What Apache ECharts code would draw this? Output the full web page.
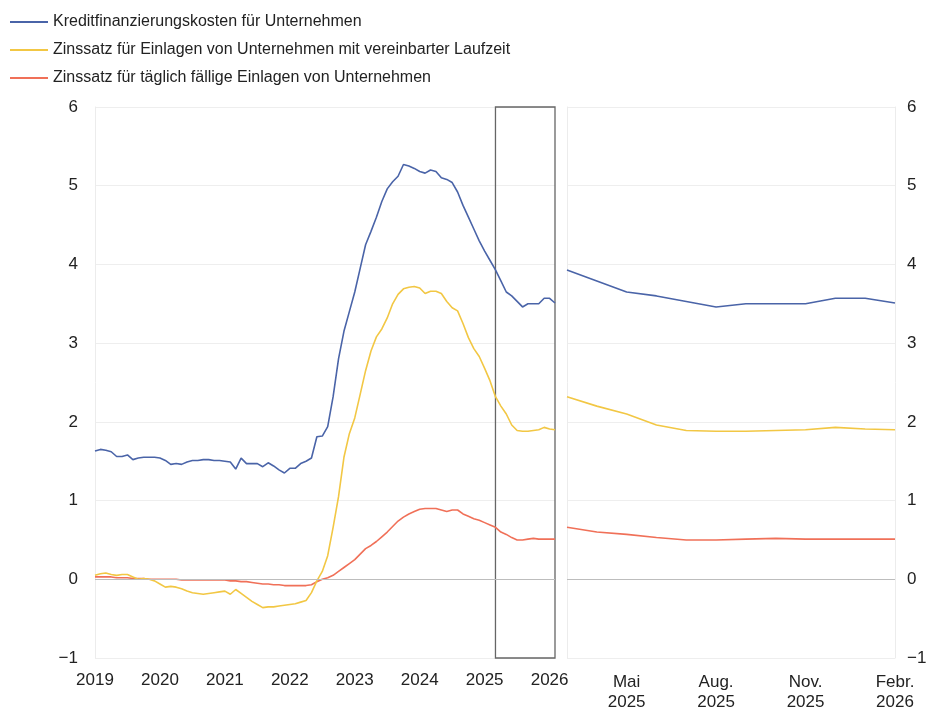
<!DOCTYPE html>
<html>
<head>
<meta charset="utf-8">
<script src="https://cdn.jsdelivr.net/npm/echarts@6/dist/echarts.min.js"></script>
<style>html,body{margin:0;padding:0;background:#fff;}#c{width:928px;height:710px;}</style>
</head>
<body>
<div id="c"></div>
<script>
// Monthly categories Jan 2019 .. Feb 2026
const months = [];
for (let y = 2019; y <= 2026; y++) {
  for (let m = 1; m <= 12; m++) {
    if (y === 2026 && m > 2) break;
    months.push(y + '-' + String(m).padStart(2, '0'));
  }
}
const seriesNames = [
  'Kreditfinanzierungskosten für Unternehmen',
  'Zinssatz für Einlagen von Unternehmen mit vereinbarter Laufzeit',
  'Zinssatz für täglich fällige Einlagen von Unternehmen'
];
const blue = [
  1.63,1.65,1.64,1.62,1.56,1.56,1.58,1.52,1.54,1.55,1.55,1.55,
  1.54,1.51,1.46,1.47,1.46,1.49,1.51,1.51,1.52,1.52,1.51,1.51,
  1.50,1.49,1.40,1.54,1.47,1.47,1.47,1.43,1.48,1.44,1.39,1.35,
  1.41,1.41,1.47,1.50,1.54,1.81,1.82,1.94,2.32,2.80,3.15,3.40,
  3.65,3.95,4.25,4.42,4.60,4.80,4.96,5.05,5.12,5.27,5.25,5.22,
  5.18,5.16,5.20,5.18,5.10,5.08,5.04,4.92,4.75,4.60,4.45,4.30,
  4.17,4.05,3.93,3.79,3.65,3.60,3.53,3.46,3.50,3.50,3.50,3.57,
  3.57,3.51
];
const yellow = [
  0.05,0.07,0.08,0.06,0.05,0.06,0.06,0.03,0.00,0.01,0.00,-0.02,
  -0.06,-0.10,-0.09,-0.10,-0.12,-0.15,-0.17,-0.18,-0.19,-0.18,-0.17,-0.16,
  -0.15,-0.19,-0.13,-0.18,-0.23,-0.28,-0.32,-0.36,-0.35,-0.35,-0.34,-0.33,
  -0.32,-0.31,-0.29,-0.27,-0.17,-0.02,0.10,0.30,0.66,1.05,1.55,1.85,
  2.05,2.35,2.65,2.90,3.08,3.18,3.32,3.50,3.62,3.69,3.71,3.72,
  3.70,3.63,3.66,3.66,3.63,3.53,3.45,3.41,3.25,3.07,2.93,2.83,
  2.68,2.52,2.32,2.20,2.10,1.96,1.89,1.88,1.88,1.89,1.90,1.93,
  1.91,1.90
];
const red = [
  0.03,0.03,0.03,0.03,0.02,0.02,0.02,0.01,0.01,0.01,0.00,0.00,
  0.00,0.00,0.00,0.00,-0.01,-0.01,-0.01,-0.01,-0.01,-0.01,-0.01,-0.01,
  -0.01,-0.02,-0.02,-0.03,-0.03,-0.04,-0.05,-0.06,-0.06,-0.07,-0.07,-0.08,
  -0.08,-0.08,-0.08,-0.08,-0.07,-0.03,0.00,0.02,0.05,0.10,0.15,0.20,
  0.25,0.32,0.39,0.43,0.48,0.54,0.60,0.67,0.74,0.79,0.83,0.86,
  0.89,0.90,0.90,0.90,0.88,0.86,0.88,0.88,0.83,0.80,0.77,0.75,
  0.72,0.69,0.66,0.60,0.57,0.53,0.50,0.50,0.51,0.52,0.51,0.51,
  0.51,0.51
];
const zoomStart = '2025-03';
const zoomEnd = '2026-02';
const zoomIdx = months.indexOf(zoomStart);
const rightMonths = months.slice(zoomIdx);
const rightTickLabels = {'2025-05':'Mai\n2025','2025-08':'Aug.\n2025','2025-11':'Nov.\n2025','2026-02':'Febr.\n2026'};
const yMin = -1, yMax = 6, yInterval = 1;
const colors = ['#4a64a8', '#f2c744', '#f07058'];

const chart = echarts.init(document.getElementById('c'), null, {renderer: 'canvas'});
const font = 'Liberation Sans, Arial, sans-serif';
const axisLabelStyle = {color: '#222', fontSize: 17, fontFamily: font};
const leftData = [blue, yellow, red];

function yAxisDef(gridIndex, pos) {
  return {
    type: 'value', gridIndex: gridIndex, min: yMin, max: yMax, interval: yInterval, position: pos,
    axisLine: {show: true, lineStyle: {color: '#ececec'}},
    axisTick: {show: false},
    splitLine: {show: true, lineStyle: {color: '#eeeeee', width: 1}},
    axisLabel: Object.assign({show: true, margin: pos === 'right' ? 12 : 17,
      formatter: v => v < 0 ? '\u2212' + Math.abs(v) : String(v)}, axisLabelStyle)
  };
}

const series = [];
leftData.forEach((d, i) => {
  const s = {
    name: seriesNames[i], type: 'line', xAxisIndex: 0, yAxisIndex: 0,
    data: d, symbol: 'none', lineStyle: {width: 1.6, color: colors[i]}, itemStyle: {color: colors[i]},
    z: 3 - i + 2
  };
  if (i === 0) {
    s.markArea = {silent: true, itemStyle: {color: 'rgba(0,0,0,0)', borderColor: '#666', borderWidth: 1.3},
      data: [[{xAxis: zoomStart}, {xAxis: zoomEnd}]]};
    s.markLine = {silent: true, symbol: 'none', label: {show: false},
      lineStyle: {color: '#bdbdbd', type: 'solid', width: 1.2}, data: [{yAxis: 0}]};
  }
  series.push(s);
});
leftData.forEach((d, i) => {
  const s = {
    name: seriesNames[i], type: 'line', xAxisIndex: 1, yAxisIndex: 1,
    data: d.slice(zoomIdx), symbol: 'none', lineStyle: {width: 1.6, color: colors[i]}, itemStyle: {color: colors[i]},
    z: 3 - i + 2
  };
  if (i === 0) {
    s.markLine = {silent: true, symbol: 'none', label: {show: false},
      lineStyle: {color: '#bdbdbd', type: 'solid', width: 1.2}, data: [{yAxis: 0}]};
  }
  series.push(s);
});

chart.setOption({
  animation: false,
  backgroundColor: '#fff',
  legend: {
    data: seriesNames, orient: 'vertical', left: 5, top: 7,
    icon: 'rect', itemWidth: 38, itemHeight: 2, itemGap: 8,
    textStyle: {color: '#222', fontSize: 16, fontFamily: font, lineHeight: 20, padding: [0, 0, 0, 0]}
  },
  grid: [
    {left: 95, right: 373, top: 107, bottom: 52, outerBoundsMode: 'none', containLabel: false},
    {left: 567, right: 33, top: 107, bottom: 52, outerBoundsMode: 'none', containLabel: false}
  ],
  xAxis: [
    {type: 'category', gridIndex: 0, data: months, boundaryGap: false,
     axisLine: {show: false}, axisTick: {show: false}, splitLine: {show: false},
     axisLabel: Object.assign({margin: 14, interval: 0,
       formatter: v => v.endsWith('-01') ? v.slice(0, 4) : ''}, axisLabelStyle)},
    {type: 'category', gridIndex: 1, data: rightMonths, boundaryGap: false,
     axisLine: {show: false}, axisTick: {show: false},
     splitLine: {show: false},
     axisLabel: Object.assign({margin: 14, interval: 0, lineHeight: 20,
       formatter: v => rightTickLabels[v] || ''}, axisLabelStyle)}
  ],
  yAxis: [yAxisDef(0, 'left'), yAxisDef(1, 'right'),
    {type: 'value', gridIndex: 1, min: yMin, max: yMax, interval: yInterval, position: 'left',
     axisLine: {show: true, lineStyle: {color: '#ececec'}}, axisTick: {show: false},
     splitLine: {show: false}, axisLabel: {show: false}}],
  series: series
});
</script>
</body>
</html>
